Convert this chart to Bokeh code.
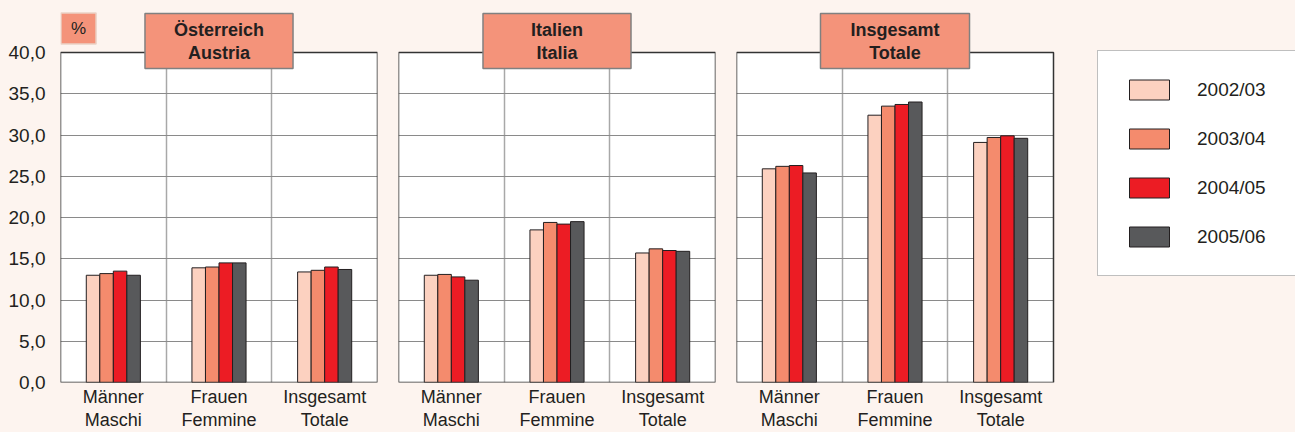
from bokeh.plotting import figure
from bokeh.layouts import row
from bokeh.models import FixedTicker, Label, Legend, LegendItem, Range1d, BoxAnnotation
from bokeh.embed import file_html
from bokeh.resources import INLINE
import numpy as np

# ---------------- data ----------------
categories = ["Männer\nMaschi", "Frauen\nFemmine", "Insgesamt\nTotale"]
years = ["2002/03", "2003/04", "2004/05", "2005/06"]
panel_titles = ["Österreich\nAustria", "Italien\nItalia", "Insgesamt\nTotale"]

austria_0203 = [13.0, 13.9, 13.4]
austria_0304 = [13.2, 14.0, 13.6]
austria_0405 = [13.5, 14.5, 14.0]
austria_0506 = [13.0, 14.5, 13.7]

italy_0203 = [13.0, 18.5, 15.7]
italy_0304 = [13.1, 19.4, 16.2]
italy_0405 = [12.8, 19.2, 16.0]
italy_0506 = [12.4, 19.5, 15.9]

total_0203 = [25.9, 32.4, 29.1]
total_0304 = [26.2, 33.5, 29.7]
total_0405 = [26.3, 33.7, 29.9]
total_0506 = [25.4, 34.0, 29.6]

y_ticks = [0, 5, 10, 15, 20, 25, 30, 35, 40]
y_tick_labels = ["0,0", "5,0", "10,0", "15,0", "20,0", "25,0", "30,0", "35,0", "40,0"]

# ---------------- style / layout ----------------
BG = "#fdf4ef"
TXT = "#231f20"
SALMON = "#f4937a"
colors = ["#fcd1c0", "#f48b6d", "#ec1c24", "#58595b"]
FONT = "Liberation Sans"
BAR_W = 0.128

H = 432            # canvas height
BOTTOM = 50        # space for category labels
PLOT_W = 317       # pixel width of one panel's plot box
PLOT_H = 330       # pixel height of the plot box (0..40)
FRAME_H = H - BOTTOM
Y_MAX = y_ticks[-1]
Y_TOP = Y_MAX * FRAME_H / PLOT_H   # frame reaches up to the canvas top
NCAT = len(categories)

panels_data = [
    [austria_0203, austria_0304, austria_0405, austria_0506],
    [italy_0203, italy_0304, italy_0405, italy_0506],
    [total_0203, total_0304, total_0405, total_0506],
]
title_pads = [29, 48, 30]


def make_panel(idx, width, left, right, frame_w):
    x_end = NCAT * frame_w / PLOT_W
    kw = dict(width=width, height=H,
              x_range=Range1d(0, x_end), y_range=Range1d(0, Y_TOP),
              min_border_left=left, min_border_right=right,
              min_border_top=0, min_border_bottom=BOTTOM,
              output_backend="svg", toolbar_location=None,
              background_fill_color=BG, border_fill_color=BG,
              outline_line_color=None)
    if idx != 0:
        kw["y_axis_location"] = None
    p = figure(**kw)

    # white plot box under everything
    p.add_layout(BoxAnnotation(left=0, right=NCAT, bottom=0, top=Y_MAX,
                               fill_color="white", fill_alpha=1.0,
                               line_color=None, level="image"))

    # grid
    p.xgrid.ticker = FixedTicker(ticks=list(range(1, NCAT)))
    p.xgrid.cross_bounds = (0, Y_MAX)
    p.xgrid.grid_line_color = "#a8a8a8"
    p.xgrid.grid_line_width = 1.5
    p.ygrid.ticker = FixedTicker(ticks=y_ticks[1:-1])
    p.ygrid.cross_bounds = (0, NCAT)
    p.ygrid.grid_line_color = "#8a8a8a"
    p.ygrid.grid_line_width = 1.2

    # x axis
    centers = [i + 0.5 for i in range(NCAT)]
    p.xaxis.ticker = FixedTicker(ticks=centers)
    p.xaxis.major_label_overrides = {c: lab for c, lab in zip(centers, categories)}
    p.xaxis.axis_line_color = None
    p.xaxis.major_tick_line_color = None
    p.xaxis.minor_tick_line_color = None
    p.xaxis.major_tick_out = 0
    p.xaxis.major_tick_in = 0
    p.xaxis.minor_tick_out = 0
    p.xaxis.major_label_standoff = 4
    p.xaxis.major_label_text_font = FONT
    p.xaxis.major_label_text_font_size = "18px"
    p.xaxis.major_label_text_color = TXT
    p.xaxis.major_label_text_line_height = 1.15

    if idx == 0:
        p.yaxis.ticker = FixedTicker(ticks=y_ticks)
        p.yaxis.major_label_overrides = {t: s for t, s in zip(y_ticks, y_tick_labels)}
        p.yaxis.axis_line_color = None
        p.yaxis.major_tick_line_color = None
        p.yaxis.minor_tick_line_color = None
        p.yaxis.major_tick_out = 0
        p.yaxis.major_tick_in = 0
        p.yaxis.minor_tick_out = 0
        p.yaxis.major_label_standoff = 15
        p.yaxis.major_label_text_font = FONT
        p.yaxis.major_label_text_font_size = "19px"
        p.yaxis.major_label_text_color = TXT

    # bars
    renderers = []
    base = np.arange(NCAT) + 0.5
    for k, vals in enumerate(panels_data[idx]):
        xs = base + (k - 1.5) * BAR_W
        r = p.vbar(x=xs, top=vals, bottom=0, width=BAR_W,
                   fill_color=colors[k], line_color="#231f20", line_width=1)
        renderers.append(r)

    # plot box border
    p.add_layout(BoxAnnotation(left=0, right=NCAT, bottom=0, top=Y_MAX,
                               fill_alpha=0, line_color="#333333", line_alpha=1.0,
                               line_width=1.5))

    # title box
    pad = title_pads[idx]
    p.add_layout(Label(x=PLOT_W / 2, y=341.5, x_units="screen", y_units="screen",
                       text=panel_titles[idx], text_align="center", text_baseline="middle",
                       text_font=FONT, text_font_style="bold", text_font_size="18px",
                       text_color=TXT, text_line_height=1.15,
                       background_fill_color=SALMON, border_line_color="#808080",
                       border_line_width=1.5,
                       padding=dict(left=pad, right=pad, top=6, bottom=6)))
    if idx == 0:
        p.add_layout(Label(x=18, y=354, x_units="screen", y_units="screen",
                           text="%", text_align="center", text_baseline="middle",
                           text_font=FONT, text_font_size="17px", text_color=TXT,
                           background_fill_color=SALMON, border_line_color="#ead2c6",
                           border_line_width=1.5,
                           padding=dict(left=10, right=10, top=6, bottom=6)))
    return p, renderers


p1, _ = make_panel(0, 388, 60, 11, PLOT_W)
p2, _ = make_panel(1, 338, 10, 11, PLOT_W)
p3, rs = make_panel(2, 569, 10, 0, 559)

legend = Legend(items=[LegendItem(label=y, renderers=[r]) for y, r in zip(years, rs)],
                location=(361, 106),
                glyph_width=50, glyph_height=25, label_height=25, label_width=120,
                padding=26, spacing=24, label_standoff=23, margin=0,
                label_text_font=FONT, label_text_font_size="19px", label_text_color=TXT,
                border_line_color="#808080", border_line_width=1.5,
                background_fill_color="white", background_fill_alpha=1.0)
p3.add_layout(legend)

layout = row(p1, p2, p3)
html = file_html(layout, INLINE)
html = html.replace("<head>", "<head><style>body{background:%s;}</style>" % BG, 1)
open("out.html", "w").write(html)
